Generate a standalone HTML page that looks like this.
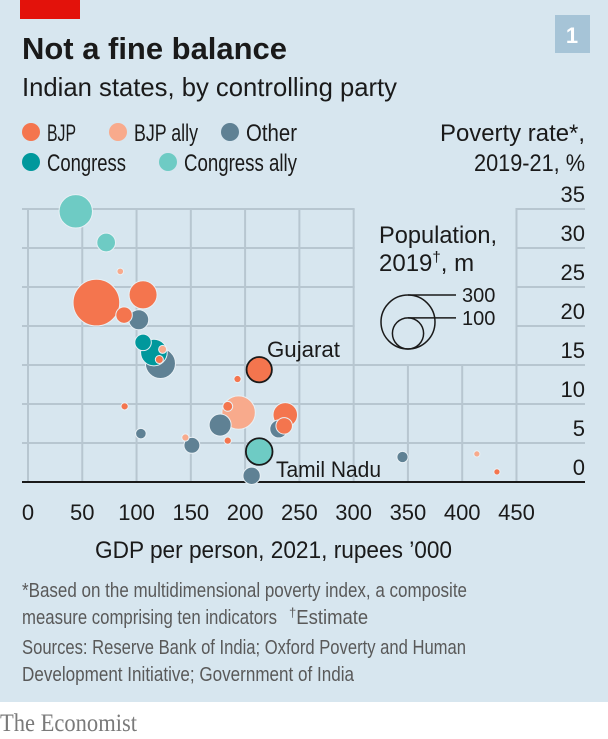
<!DOCTYPE html>
<html><head><meta charset="utf-8">
<style>
html,body{margin:0;padding:0;background:#fff;}
body{width:608px;height:739px;position:relative;overflow:hidden;font-family:"Liberation Sans",sans-serif;}
#panel{position:absolute;left:0;top:0;width:608px;height:702px;background:#d7e6ef;}
svg{position:absolute;left:0;top:0;}
</style></head>
<body>
<div id="panel"></div>
<svg id="chart" width="608" height="739">
  <rect x="20" y="0" width="60" height="19" fill="#e3120b"/>
  <rect x="555" y="15" width="35" height="38" fill="#a6c4d7"/>
  <text x="572" y="43" text-anchor="middle" font-size="22" font-weight="bold" fill="#fff">1</text>
  <text x="22" y="59" font-size="31" font-weight="bold" fill="#1a1a1a" textLength="265" lengthAdjust="spacingAndGlyphs">Not a fine balance</text>
  <text x="22" y="96" font-size="26" fill="#1a1a1a" textLength="375" lengthAdjust="spacingAndGlyphs">Indian states, by controlling party</text>
  <g id="legend" font-size="24" fill="#1a1a1a"></g>
  <text x="585" y="141" text-anchor="end" font-size="24" fill="#1a1a1a" textLength="145" lengthAdjust="spacingAndGlyphs">Poverty rate*,</text>
  <text x="585" y="171" text-anchor="end" font-size="24" fill="#1a1a1a" textLength="111" lengthAdjust="spacingAndGlyphs">2019-21, %</text>
  <g id="grid"></g>
  <g id="ylabels" font-size="22" fill="#1a1a1a" text-anchor="end"></g>
  <g id="xlabels" font-size="22" fill="#1a1a1a" text-anchor="middle"></g>
  <g id="sizelegend">
    <text x="379" y="243" font-size="24" fill="#1a1a1a" textLength="118" lengthAdjust="spacingAndGlyphs">Population,</text>
    <text x="379" y="271" font-size="24" fill="#1a1a1a">2019<tspan font-size="15" dy="-9">†</tspan><tspan dy="9">, m</tspan></text>
  </g>
  <g id="points"></g>
  <text x="267" y="357" font-size="22" fill="#1a1a1a" textLength="73" lengthAdjust="spacingAndGlyphs">Gujarat</text>
  <text x="276" y="477" font-size="22" fill="#1a1a1a" textLength="105" lengthAdjust="spacingAndGlyphs">Tamil Nadu</text>
  <text x="95" y="558" font-size="24" fill="#1a1a1a" textLength="357" lengthAdjust="spacingAndGlyphs">GDP per person, 2021, rupees ’000</text>
  <g font-size="20" fill="#595959">
    <text x="22" y="597" textLength="445" lengthAdjust="spacingAndGlyphs">*Based on the multidimensional poverty index, a composite</text>
    <text x="22" y="624" textLength="255" lengthAdjust="spacingAndGlyphs">measure comprising ten indicators</text>
    <text x="289" y="624"><tspan font-size="13" dy="-7">†</tspan><tspan dy="7" textLength="72" lengthAdjust="spacingAndGlyphs">Estimate</tspan></text>
    <text x="22" y="654" textLength="444" lengthAdjust="spacingAndGlyphs">Sources: Reserve Bank of India; Oxford Poverty and Human</text>
    <text x="22" y="681" textLength="332" lengthAdjust="spacingAndGlyphs">Development Initiative; Government of India</text>
  </g>
  <text x="0" y="731" font-size="25" fill="#7a7a7a" font-family="Liberation Serif, serif" textLength="137" lengthAdjust="spacingAndGlyphs">The Economist</text>
</svg>
<script>
const gdp = [44,72,85,63,106,88.5,102,106,122,116,124,121,213,193,194,184,177,237,231,236,89,104,145,151,184,213,206,345,413.5,432];
const poverty = [34.7,30.7,27,23,24,21.4,20.8,17.9,15.2,16.6,17,15.7,14.4,13.2,8.9,9.7,7.3,8.6,6.8,7.2,9.7,6.2,5.7,4.7,5.3,3.9,0.8,3.2,3.6,1.3];
const population = [115,36,4.5,224,81,28,41,28,93,73,6.6,6.6,66,5.4,115,10,50,62,33,28,5.4,11.5,5.4,26,5.4,73,31,13,4,4];
const party = ["Congress ally","Congress ally","BJP ally","BJP","BJP","BJP","Other","Congress","Other","Congress","BJP ally","BJP","BJP","BJP","BJP ally","BJP","Other","BJP","Other","BJP","BJP","Other","BJP ally","Other","BJP","Congress ally","Other","Other","BJP ally","BJP"];
const highlighted = [false,false,false,false,false,false,false,false,false,false,false,false,true,false,false,false,false,false,false,false,false,false,false,false,false,true,false,false,false,false];
const xTicks = [0,50,100,150,200,250,300,350,400,450];
const yTicks = [0,5,10,15,20,25,30,35];
const legendParties = ["BJP","BJP ally","Other","Congress","Congress ally"];
const sizeLegendValues = [300,100];

const colors = {"BJP":"#f4754e","BJP ally":"#f8aa8c","Other":"#5f8194","Congress":"#00989c","Congress ally":"#6ecbc4"};
const NS = "http://www.w3.org/2000/svg";
const xS = v => 28 + v * 1.0855;
const yS = v => 482 - v * 7.8;
const rS = p => 27 * Math.sqrt(p / 300);
function mk(tag, attrs, parent){const e=document.createElementNS(NS,tag);for(const k in attrs)e.setAttribute(k,attrs[k]);parent.appendChild(e);return e;}

// legend
const lg = document.getElementById('legend');
const legPos = [[22,141,29],[109,141,64],[221,141,51],[22,171,79],[159,171,113]];
legendParties.forEach((p,i)=>{
  const g = mk('g',{},lg);
  
  
  mk('circle',{cx:legPos[i][0]+9,cy:legPos[i][1]-9,r:9,fill:colors[p]},g);
  const t = mk('text',{x:legPos[i][0]+25,y:legPos[i][1],textLength:legPos[i][2],lengthAdjust:'spacingAndGlyphs'},g); t.textContent=p;
});

// grid
const grid = document.getElementById('grid');
const gc = "#b7c6d0";
const lx1 = xS(300)+1, lx2 = xS(450)-1, ly2 = yS(15);
yTicks.forEach(v=>{
  if(v===0) return;
  const y=yS(v);
  if(v>15){
    mk('line',{x1:22,x2:lx1,y1:y,y2:y,stroke:gc,'stroke-width':2},grid);
    mk('line',{x1:lx2,x2:585,y1:y,y2:y,stroke:gc,'stroke-width':2},grid);
  } else mk('line',{x1:22,x2:585,y1:y,y2:y,stroke:gc,'stroke-width':2},grid);
});
xTicks.forEach(v=>{
  const x=xS(v);
  const top = (v===350||v===400) ? ly2 : yS(35);
  mk('line',{x1:x,x2:x,y1:top,y2:482,stroke:gc,'stroke-width':2},grid);
});
mk('line',{x1:22,x2:585,y1:482,y2:482,stroke:"#1a1a1a",'stroke-width':2},grid);

const yl = document.getElementById('ylabels');
yTicks.forEach(v=>{const t=mk('text',{x:585,y:yS(v)-7},yl);t.textContent=v;});
const xl = document.getElementById('xlabels');
xTicks.forEach(v=>{const t=mk('text',{x:xS(v),y:520},xl);t.textContent=v;});

// size legend
const sl = document.getElementById('sizelegend');
const sBase = 349, sCx = 408;
sizeLegendValues.forEach(p=>{
  const r=rS(p);
  mk('circle',{cx:sCx,cy:sBase-r,r:r,fill:'none',stroke:'#1a1a1a','stroke-width':1.5},sl);
  mk('line',{x1:sCx,x2:456,y1:sBase-2*r,y2:sBase-2*r,stroke:'#1a1a1a','stroke-width':1.5},sl);
  const t=mk('text',{x:462,y:sBase-2*r+7,'font-size':20,fill:'#1a1a1a'},sl);t.textContent=p;
});

// points (big first)
const pts = document.getElementById('points');
const order = gdp.map((_,i)=>i).sort((a,b)=>population[b]-population[a]);
order.forEach(i=>{
  const c = mk('circle',{cx:xS(gdp[i]),cy:yS(poverty[i]),r:rS(population[i]),fill:colors[party[i]],
    stroke: highlighted[i] ? '#1a1a1a' : '#e8f0f5','stroke-width': highlighted[i]?1.8:1},pts);
  
  
});
</script>
</body></html>
